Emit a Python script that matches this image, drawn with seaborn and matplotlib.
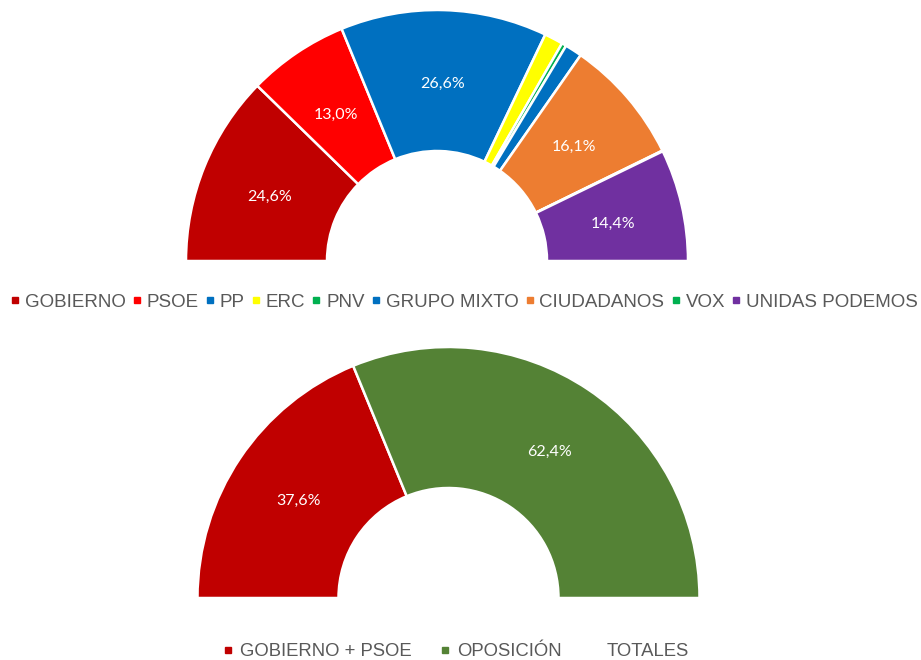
import matplotlib
matplotlib.use("Agg")
import matplotlib.pyplot as plt
from matplotlib.lines import Line2D
import seaborn as sns

# top chart: seats share by group
parties = ["GOBIERNO", "PSOE", "PP", "ERC", "PNV", "GRUPO MIXTO",
           "CIUDADANOS", "VOX", "UNIDAS PODEMOS"]
shares = [24.6, 13.0, 26.6, 2.4, 0.6, 2.2, 16.1, 0.1, 14.4]
party_colors = ["#C00000", "#FF0000", "#0070C0", "#FFFF00", "#00B050",
                "#0070C0", "#ED7D31", "#00B050", "#7030A0"]

# bottom chart: totals
blocks = ["GOBIERNO + PSOE", "OPOSICIÓN"]
block_shares = [37.6, 62.4]
block_colors = ["#C00000", "#548235"]

sns.set_theme(style="white")
plt.rcParams["font.family"] = ["Liberation Sans", "DejaVu Sans"]

fig = plt.figure(figsize=(9.21, 6.6), dpi=100)
ax = fig.add_axes([0, 0, 1, 1])


def half_donut(values, colors, center, radius, width):
    total = sum(values)
    vals = list(values) + [total]  # hidden lower half
    cols = list(colors) + ["none"]

    def fmt(p):
        v = p * 2 * total / 100
        if v < 5 or v > 99.5:
            return ""
        return f"{v:.1f}%".replace(".", ",")

    wedges, _, autotexts = ax.pie(
        vals, colors=cols, startangle=180, counterclock=False,
        center=center, radius=radius, frame=True, autopct=fmt,
        pctdistance=(radius - width / 2) / radius,
        wedgeprops=dict(width=width, edgecolor="white", linewidth=1.8),
        textprops=dict(color="white", fontsize=11.5, family="Lato"))
    wedges[-1].set_edgecolor("none")
    # excel puts the labels a touch lower
    for t in autotexts:
        x, y = t.get_position()
        t.set_position((x, y - 3.5))
    return wedges


half_donut(shares, party_colors, (437, 399), 251, 141)
half_donut(block_shares, block_colors, (448.5, 62), 251, 141)

ax.set_xlim(0, 921)
ax.set_ylim(0, 660)
ax.set_aspect("equal")
ax.axis("off")

text_color = "#595959"


def sq(c):
    return Line2D([], [], marker="s", linestyle="none", markersize=4.5,
                  markerfacecolor=c, markeredgecolor=c)


fig.legend([sq(c) for c in party_colors], parties, loc="center",
           bbox_to_anchor=(464 / 921, 1 - 302 / 660), ncol=len(parties),
           frameon=False, fontsize=13.5, handlelength=0.5,
           handletextpad=0.28, columnspacing=0.34, labelcolor=text_color,
           borderaxespad=0, borderpad=0)

handles2 = [sq(c) for c in block_colors] + [Line2D([], [], linestyle="none")]
fig.legend(handles2, blocks + ["TOTALES"], loc="center",
           bbox_to_anchor=(456 / 921, 1 - 652 / 660), ncol=3,
           frameon=False, fontsize=13.3, handlelength=0.5,
           handletextpad=0.4, columnspacing=1.55, labelcolor=text_color,
           borderaxespad=0, borderpad=0)

fig.savefig("out.png", dpi=100)
